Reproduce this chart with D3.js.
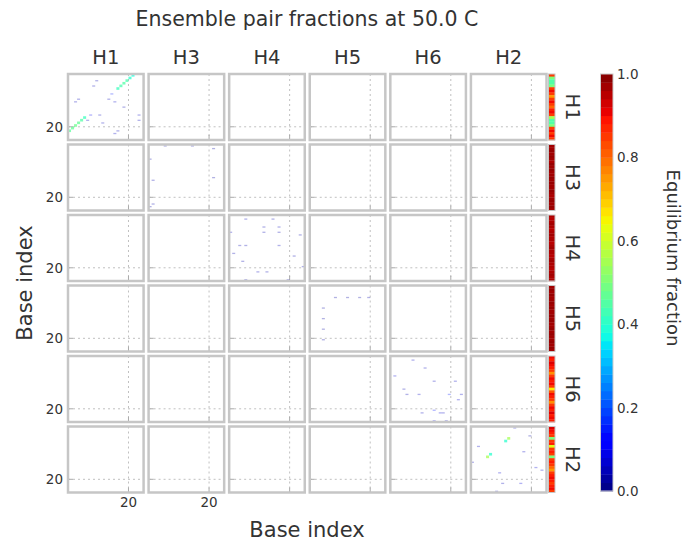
<!DOCTYPE html>
<html>
<head>
<meta charset="utf-8">
<script src="https://cdn.jsdelivr.net/npm/d3@7"></script>
<style>
  html, body { margin: 0; padding: 0; background: #fff; }
  svg { display: block; font-family: "DejaVu Sans", sans-serif; }
</style>
</head>
<body>
<svg id="chart" width="689" height="546"></svg>
<script>
// Helix order (rows and columns share it)
const helices = ["H1", "H3", "H4", "H5", "H6", "H2"];
const seqLength = 25;
const gridTicks = [20];
const colorbarTicks = [0.0, 0.2, 0.4, 0.6, 0.8, 1.0];

// Pair fractions inside each helix: [i, j, fraction]
const pairsH1 = [
  [0, 21, 0.46], [1, 20, 0.47], [2, 19, 0.48], [3, 18, 0.47], [4, 17, 0.45], [5, 16, 0.42],
  [16, 5, 0.42], [17, 4, 0.44], [18, 3, 0.45], [19, 2, 0.44], [20, 1, 0.4], [21, 0, 0.38],
  [8, 4, 0.05], [9, 2, 0.04], [2, 10, 0.05], [3, 9, 0.05], [14, 7, 0.15], [15, 10, 0.06],
  [13, 9, 0.05], [18, 12, 0.04], [7, 15, 0.1], [10, 15, 0.05], [6, 17, 0.06], [11, 18, 0.05],
  [23, 15, 0.06], [23, 17, 0.05], [15, 22, 0.06], [16, 21, 0.05]
];
const pairsH3 = [
  [5, 0, 0.03], [14, 0, 0.03], [21, 1, 0.03], [0, 5, 0.03], [1, 13, 0.04], [21, 12, 0.03],
  [1, 22, 0.04], [0, 23, 0.03]
];
const pairsH4 = [
  [5, 1, 0.05], [0, 6, 0.06], [11, 4, 0.04], [14, 1, 0.04], [16, 4, 0.05], [11, 6, 0.04],
  [16, 6, 0.04], [3, 11, 0.04], [5, 11, 0.04], [16, 11, 0.05], [1, 14, 0.04], [21, 15, 0.04],
  [4, 17, 0.04], [9, 21, 0.05], [12, 21, 0.04], [23, 7, 0.04], [24, 19, 0.05], [5, 24, 0.04],
  [19, 24, 0.04]
];
const pairsH5 = [
  [8, 4, 0.03], [12, 4, 0.03], [16, 4, 0.03], [19, 4, 0.04], [4, 8, 0.03], [4, 12, 0.03],
  [4, 16, 0.03], [4, 20, 0.03]
];
const pairsH6 = [
  [7, 1, 0.06], [1, 7, 0.07], [11, 4, 0.05], [14, 9, 0.05], [21, 9, 0.06], [9, 14, 0.06],
  [19, 14, 0.15], [23, 14, 0.06], [22, 16, 0.07], [14, 20, 0.14], [16, 21, 0.07], [10, 21, 0.05],
  [14, 24, 0.07], [4, 12, 0.04], [5, 14, 0.04], [17, 21, 0.06], [18, 24, 0.05]
];
const pairsH2 = [
  [12, 4, 0.55], [11, 5, 0.4], [5, 11, 0.55], [6, 10, 0.4], [2, 7, 0.06], [17, 9, 0.06],
  [9, 17, 0.07], [23, 16, 0.06], [21, 15, 0.07], [16, 21, 0.08], [10, 21, 0.05], [14, 0, 0.05],
  [0, 13, 0.05], [19, 3, 0.03], [8, 24, 0.05]
];
const pairsByHelix = { H1: pairsH1, H3: pairsH3, H4: pairsH4, H5: pairsH5, H6: pairsH6, H2: pairsH2 };

// Unpaired fraction of each base, shown in the narrow strip at the right
const unpairedH1 = [0.85, 0.5, 0.45, 0.45, 0.5, 0.85, 0.9, 0.85, 0.75, 0.85, 0.9, 0.85, 0.8,
                    0.88, 0.9, 0.85, 0.55, 0.45, 0.45, 0.5, 0.85, 0.9, 0.85, 0.9, 0.85];
const unpairedH3 = [0.97, 0.97, 0.98, 0.97, 0.98, 0.97, 0.96, 0.98, 0.97, 0.98, 0.97, 0.97, 0.98,
                    0.97, 0.98, 0.97, 0.97, 0.98, 0.97, 0.96, 0.97, 0.98, 0.97, 0.98, 0.97];
const unpairedH4 = [0.96, 0.95, 0.96, 0.97, 0.96, 0.95, 0.96, 0.97, 0.96, 0.96, 0.95, 0.96, 0.97,
                    0.96, 0.96, 0.95, 0.96, 0.97, 0.96, 0.96, 0.95, 0.96, 0.97, 0.96, 0.96];
const unpairedH5 = [0.97, 0.98, 0.97, 0.98, 0.97, 0.97, 0.98, 0.97, 0.98, 0.97, 0.97, 0.98, 0.97,
                    0.98, 0.97, 0.97, 0.98, 0.97, 0.98, 0.97, 0.97, 0.98, 0.97, 0.98, 0.97];
const unpairedH6 = [0.9, 0.88, 0.92, 0.9, 0.88, 0.85, 0.76, 0.85, 0.9, 0.88, 0.9, 0.85, 0.66,
                    0.82, 0.9, 0.88, 0.85, 0.76, 0.85, 0.9, 0.88, 0.92, 0.88, 0.9, 0.88];
const unpairedH2 = [0.92, 0.9, 0.88, 0.85, 0.5, 0.85, 0.88, 0.62, 0.85, 0.88, 0.85, 0.5, 0.85,
                    0.88, 0.85, 0.8, 0.75, 0.85, 0.88, 0.9, 0.88, 0.85, 0.88, 0.9, 0.85];
const unpairedByHelix = { H1: unpairedH1, H3: unpairedH3, H4: unpairedH4, H5: unpairedH5, H6: unpairedH6, H2: unpairedH2 };

// Jet colour map
const jetR = d3.scaleLinear().domain([0, 0.35, 0.66, 0.89, 1]).range([0, 0, 1, 1, 0.5]).clamp(true);
const jetG = d3.scaleLinear().domain([0, 0.125, 0.375, 0.64, 0.91, 1]).range([0, 0, 1, 1, 0, 0]).clamp(true);
const jetB = d3.scaleLinear().domain([0, 0.11, 0.34, 0.65, 1]).range([0.5, 1, 1, 0, 0]).clamp(true);
const jet = v => d3.rgb(jetR(v) * 255, jetG(v) * 255, jetB(v) * 255).formatHex();

const svg = d3.select("#chart");
const frameColor = "#c6c6c6";
const gridColor = "#c0c0c0";
const textColor = "#333";

// Panel layout
const col = d3.scaleBand().domain(helices).range([68, 546.5]).paddingInner(0.062);
const row = d3.scaleBand().domain(helices).range([74, 492.5]).paddingInner(0.064);
const pw = col.bandwidth(), ph = row.bandwidth();
const xIdx = d3.scaleLinear().domain([0, seqLength]).range([0, pw]);
const yIdx = d3.scaleLinear().domain([0, seqLength]).range([0, ph]);
const cellW = xIdx(1) - xIdx(0), cellH = yIdx(1) - yIdx(0);

helices.forEach((rh, ri) => {
  helices.forEach((ch, ci) => {
    const g = svg.append("g").attr("transform", `translate(${col(ch)},${row(rh)})`);
    g.append("rect").attr("width", pw).attr("height", ph).attr("fill", "#fff");

    // dotted reference lines
    gridTicks.forEach(t => {
      g.append("line").attr("x1", xIdx(t)).attr("x2", xIdx(t)).attr("y1", 0).attr("y2", ph)
        .attr("stroke", gridColor).attr("stroke-width", 1).attr("stroke-dasharray", "2,3");
      g.append("line").attr("x1", 0).attr("x2", pw).attr("y1", yIdx(t)).attr("y2", yIdx(t))
        .attr("stroke", gridColor).attr("stroke-width", 1).attr("stroke-dasharray", "2,3");
      // inward tick marks
      g.append("line").attr("x1", 0).attr("x2", 5).attr("y1", yIdx(t)).attr("y2", yIdx(t))
        .attr("stroke", "#aaa").attr("stroke-width", 1);
      g.append("line").attr("x1", xIdx(t)).attr("x2", xIdx(t)).attr("y1", ph).attr("y2", ph - 5)
        .attr("stroke", "#aaa").attr("stroke-width", 1);
    });

    if (rh === ch) {
      g.selectAll("rect.cell").data(pairsByHelix[rh]).join("rect")
        .attr("class", "cell")
        .attr("x", d => xIdx(d[0]))
        .attr("y", d => yIdx(d[1]) + (d[2] > 0.3 ? 0 : cellH * 0.3))
        .attr("width", cellW)
        .attr("height", d => d[2] > 0.3 ? cellH : cellH * 0.5)
        .attr("fill", d => jet(d[2]))
        .attr("opacity", d => d[2] > 0.3 ? 0.75 : 0.3);
    }

    g.append("rect").attr("width", pw).attr("height", ph).attr("fill", "none")
      .attr("stroke", frameColor).attr("stroke-width", 2.5);
  });

  // unpaired strip
  const sx = 548.5, sw = 6.5;
  const sg = svg.append("g").attr("transform", `translate(${sx},${row(rh)})`);
  sg.selectAll("rect").data(unpairedByHelix[rh]).join("rect")
    .attr("x", 0).attr("y", (d, i) => yIdx(i)).attr("width", sw).attr("height", cellH + 0.3)
    .attr("fill", d => jet(d));
  sg.append("rect").attr("width", sw).attr("height", ph).attr("fill", "none")
    .attr("stroke", frameColor).attr("stroke-width", 1);

  // row label
  svg.append("text")
    .attr("transform", `translate(566,${row(rh) + ph / 2}) rotate(90)`)
    .attr("text-anchor", "middle").attr("font-size", 19.5).attr("fill", textColor)
    .text(rh);

  // left tick labels
  gridTicks.forEach(t => {
    svg.append("text").attr("x", 63).attr("y", row(rh) + yIdx(t) + 5)
      .attr("text-anchor", "end").attr("font-size", 13.5).attr("fill", textColor).text(t);
  });
});

// column headers
helices.forEach(ch => {
  svg.append("text").attr("x", col(ch) + pw / 2).attr("y", 64)
    .attr("text-anchor", "middle").attr("font-size", 19.5).attr("fill", textColor).text(ch);
});

// bottom tick labels (first two columns)
helices.slice(0, 2).forEach(ch => {
  gridTicks.forEach(t => {
    svg.append("text").attr("x", col(ch) + xIdx(t)).attr("y", 507)
      .attr("text-anchor", "middle").attr("font-size", 13.5).attr("fill", textColor).text(t);
  });
});

// titles
svg.append("text").attr("x", 307).attr("y", 26).attr("text-anchor", "middle")
  .attr("font-size", 20.5).attr("fill", textColor).text("Ensemble pair fractions at 50.0 C");
svg.append("text").attr("x", 307).attr("y", 537).attr("text-anchor", "middle")
  .attr("font-size", 21).attr("fill", textColor).text("Base index");
svg.append("text").attr("transform", `translate(32,283) rotate(-90)`).attr("text-anchor", "middle")
  .attr("font-size", 21).attr("fill", textColor).text("Base index");

// colour bar
const cbX = 600.5, cbW = 12.5;
const cbY = d3.scaleLinear().domain([0, 1]).range([491, 74]);
const nLevels = 50;
const levels = d3.range(nLevels).map(k => k / nLevels);
svg.append("g").selectAll("rect").data(levels).join("rect")
  .attr("x", cbX).attr("width", cbW)
  .attr("y", d => cbY(d + 1 / nLevels))
  .attr("height", d => cbY(d) - cbY(d + 1 / nLevels) + 0.4)
  .attr("fill", d => jet(d + 0.5 / nLevels));
svg.append("rect").attr("x", cbX).attr("y", cbY(1)).attr("width", cbW).attr("height", cbY(0) - cbY(1))
  .attr("fill", "none").attr("stroke", "#ccc").attr("stroke-width", 1);
colorbarTicks.forEach(t => {
  svg.append("text").attr("x", 617).attr("y", cbY(t) + 5).attr("font-size", 13.5)
    .attr("fill", textColor).text(t.toFixed(1));
});
svg.append("text").attr("transform", `translate(667,258) rotate(90)`).attr("text-anchor", "middle")
  .attr("font-size", 18).attr("fill", textColor).text("Equilibrium fraction");
</script>
</body>
</html>
